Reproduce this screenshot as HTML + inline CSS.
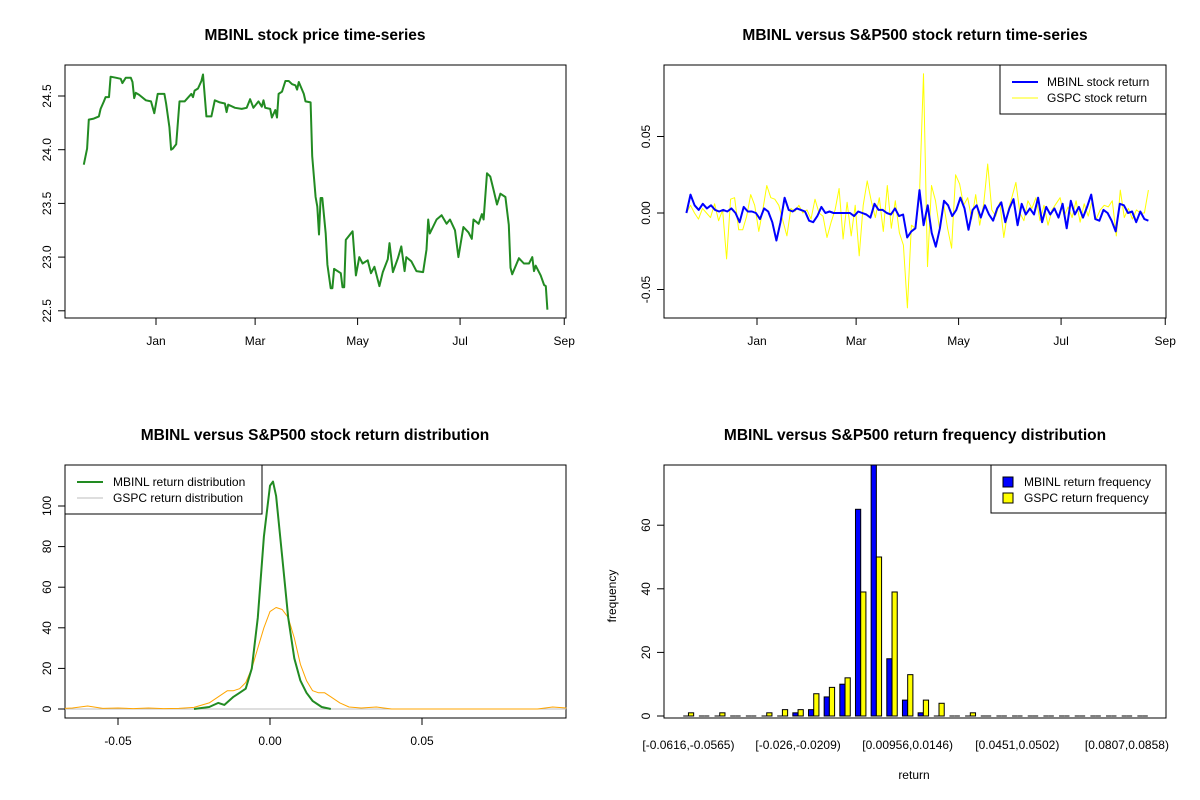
<!DOCTYPE html>
<html><head><meta charset="utf-8">
<style>
body{margin:0;background:#fff;}
svg{display:block;font-family:"Liberation Sans",Arial,sans-serif;}
.t{font-weight:bold;font-size:15.5px;text-anchor:middle;}
.tk{font-size:12px;}
</style></head>
<body>
<svg id="c" width="1200" height="800" viewBox="0 0 1200 800">
<rect width="1200" height="800" fill="#fff"/>
</svg>
<script>
// ---- data ----
const priceDays=[-43,-41,-40,-37,-34,-33,-31,-30,-28,-27,-24,-21,-20,-18,-15,-14,-13,-12,-10,-6,-3,-1,1,5,6,8,9,10,12,14,17,21,22,23,25,27,28,30,33,35,38,41,42,43,47,51,54,56,58,61,63,64,65,68,69,71,72,73,75,77,79,81,83,84,85,88,89,92,93,94,95,96,97,98,99,101,102,104,105,106,110,111,112,113,117,119,121,123,126,128,130,133,135,138,139,141,144,146,148,149,152,155,159,161,162,163,167,170,173,175,178,180,183,186,188,189,192,194,195,197,199,201,203,205,208,210,211,212,216,219,222,224,225,226,229,231,232,233];
const prices=[23.86,24.01,24.28,24.29,24.31,24.38,24.45,24.49,24.49,24.68,24.67,24.66,24.62,24.67,24.67,24.63,24.48,24.53,24.51,24.46,24.45,24.34,24.52,24.52,24.43,24.21,24.00,24.01,24.05,24.45,24.45,24.52,24.49,24.55,24.57,24.64,24.70,24.31,24.31,24.46,24.44,24.43,24.35,24.42,24.39,24.38,24.39,24.47,24.39,24.45,24.40,24.46,24.39,24.38,24.30,24.37,24.30,24.52,24.54,24.64,24.64,24.61,24.60,24.56,24.63,24.52,24.45,24.44,23.94,23.75,23.56,23.47,23.21,23.55,23.55,23.22,22.93,22.71,22.71,22.89,22.85,22.72,22.72,23.16,23.24,22.83,23.00,22.94,22.97,22.85,22.91,22.73,22.86,22.98,23.13,22.86,22.99,23.10,22.87,23.00,22.96,22.87,22.86,23.07,23.35,23.22,23.35,23.39,23.31,23.35,23.25,23.00,23.28,23.23,23.17,23.35,23.31,23.40,23.35,23.78,23.75,23.62,23.49,23.59,23.56,23.30,22.90,22.84,22.99,22.94,22.94,23.00,22.87,22.92,22.83,22.74,22.73,22.51];
// returns in percent (0.01 units)
const mbinlRet=[0,1.2,0.5,0.2,0.6,0.3,0.5,0.2,0.1,0.2,0.1,0.3,0,-0.6,0.4,0.1,0.1,0,-0.4,0.3,0.1,-0.6,-1.8,-0.6,1.0,0.2,0.1,0.3,0.2,0.1,-0.5,-0.6,-0.2,0.4,0,0.1,0,0,0,0,0,-0.2,0.1,0,-0.1,-0.3,0.6,0.2,0.2,0,-0.1,0.3,-0.2,-0.1,-1.6,-1.2,-1.0,1.5,-0.8,0.5,-1.3,-2.2,-1.0,0.8,0.5,-0.2,0.2,1.0,0.3,-1.1,0.2,0.5,-0.3,0.5,-0.1,-0.5,0.3,0.7,-0.6,0.3,0.9,-0.8,0.6,-0.1,0.3,-0.1,1.0,-0.6,0.4,-0.1,0.3,-0.3,0.6,-1.0,0.8,-0.1,0.4,-0.3,0.4,1.2,-0.4,-0.5,0.2,0,-0.5,-1.2,0.6,0.5,0,0.1,-0.6,0.1,-0.4,-0.5];
const gspcRet=[0,0.5,0,-0.4,0.3,0,-0.3,0.6,-0.5,0.2,-3.0,0.9,1.0,-1.1,-1.1,-0.2,1.2,0.5,-1.2,0.2,1.8,1.0,0.9,0.5,-0.5,-1.5,0.3,0.1,0.5,0,0.2,-0.4,0.9,0,-0.2,-1.6,-0.6,0.2,1.6,-1.7,0.7,-1.5,0.5,-2.8,0.5,2.1,0.8,-0.3,1.0,-1.2,1.8,-1.0,0.8,-1.3,-2.1,-6.2,-0.8,-1.0,1.0,9.1,-3.5,1.8,0.8,-1.0,0.6,-1.0,-2.3,2.5,1.9,0.5,1.0,-0.4,1.2,-0.8,0.6,3.2,0.2,-0.2,0.7,-1.6,0.1,1.0,2.0,0,-0.5,0.8,0.3,1.0,-0.5,0.5,-0.8,0.2,0.6,1.0,-0.2,0.4,-0.3,0.8,-0.6,0.6,-0.2,0.8,-0.4,0.2,0.5,0.4,0.8,-1.5,1.5,-0.3,0.3,-0.4,0.2,0,0,1.5];
const densGX=[-0.025,-0.02,-0.017,-0.015,-0.012,-0.01,-0.008,-0.006,-0.004,-0.002,0,0.001,0.002,0.004,0.006,0.008,0.01,0.012,0.014,0.017,0.02];
const densGY=[0,1,3,2,6,8,10,20,45,85,110,112,105,75,45,25,14,8,4,1,0];
const densOX=[-0.0675,-0.065,-0.06,-0.055,-0.05,-0.045,-0.04,-0.035,-0.03,-0.025,-0.02,-0.017,-0.014,-0.012,-0.01,-0.008,-0.006,-0.004,-0.002,0,0.002,0.004,0.006,0.008,0.01,0.012,0.014,0.016,0.018,0.02,0.023,0.026,0.03,0.035,0.04,0.088,0.093,0.0975];
const densOY=[0.3,0.5,1.5,0.3,0.5,0.2,0.5,0.2,0.3,0.8,3,6,9,9,10,13,20,30,40,48,50,49,45,35,22,14,9,8,8,6,3,1,0.5,1,0,0,1,0.5];
const binLabels=["[-0.0616,-0.0565)","[-0.026,-0.0209)","[0.00956,0.0146)","[0.0451,0.0502)","[0.0807,0.0858)"];
const histBlue=[0,0,0,0,0,0,0,1,2,6,10,65,85,18,5,1,0,0,0,0,0,0,0,0,0,0,0,0,0,0];
const histYellow=[1,0,1,0,0,1,2,2,7,9,12,39,50,39,13,5,4,0,1,0,0,0,0,0,0,0,0,0,0,0];
const monthTicks=["Jan","Mar","May","Jul","Sep"];
const monthDays=[0,59,120,181,243];

// ---- helpers ----
const S=document.getElementById('c');const NS='http://www.w3.org/2000/svg';
function mk(tag,at,name,parent){const e=document.createElementNS(NS,tag);for(const k in at)e.setAttribute(k,at[k]);


(parent||S).appendChild(e);return e;}
function txt(x,y,s,name,cls,extra){const e=mk('text',Object.assign({x:x,y:y,class:cls||'tk'},extra||{}),name);e.textContent=s;return e;}
function box(x0,y0,x1,y1,name){mk('rect',{x:x0,y:y0,width:x1-x0,height:y1-y0,fill:'none',stroke:'#000','stroke-width':1},name);}
function yTick(xb,y,lab,name){mk('line',{x1:xb,x2:xb-7,y1:y,y2:y,stroke:'#000'},name+'-tick');
txt(xb-14,y,lab,name+'-label','tk',{transform:'rotate(-90 '+(xb-14)+' '+y+')','text-anchor':'middle'});}
function xTick(x,yb,lab,name){mk('line',{x1:x,x2:x,y1:yb,y2:yb+7,stroke:'#000'},name+'-tick');
txt(x,yb+27,lab,name+'-label','tk',{'text-anchor':'middle'});}
function poly(xs,ys,col,w,name){mk('polyline',{points:xs.map((x,i)=>x.toFixed(1)+','+ys[i].toFixed(1)).join(' '),fill:'none',stroke:col,'stroke-width':w,'stroke-linejoin':'round'},name);}

// ---- panel 1: price ----
const px1=d=>156+d*1.68, py1=p=>96+(24.5-p)*107.4;
txt(315,40,'MBINL stock price time-series','price-chart-title','t');
box(65,65,566,318,'price-plot-frame');
[22.5,23.0,23.5,24.0,24.5].forEach(v=>yTick(65,py1(v),v.toFixed(1),'price-y'));
monthTicks.forEach((m,i)=>xTick(px1(monthDays[i]),318,m,'price-x-'+m.toLowerCase()));
poly(priceDays.map(px1),prices.map(py1),'#228B22',2,'price-line');

// ---- panel 2: returns ----
const px2=d=>757+d*1.68, py2=v=>213-v*15.3;
txt(915,40,'MBINL versus S&P500 stock return time-series','return-chart-title','t');
box(664,65,1166,318,'return-plot-frame');
[-5,0,5].forEach(v=>yTick(664,py2(v),(v/100).toFixed(2),'return-y'));
monthTicks.forEach((m,i)=>xTick(px2(monthDays[i]),318,m,'return-x-'+m.toLowerCase()));
const retX=a=>a.map((_,i)=>px2(-42+i*275/(a.length-1)));
poly(retX(gspcRet),gspcRet.map(py2),'#ffff00',1,'gspc-return-line');
poly(retX(mbinlRet),mbinlRet.map(py2),'#0000ff',2,'mbinl-return-line');
mk('rect',{x:1000,y:65,width:166,height:49,fill:'#fff',stroke:'#000'},'return-legend');
mk('line',{x1:1012,x2:1038,y1:82,y2:82,stroke:'#0000ff','stroke-width':2},'legend-mbinl-return-swatch');
txt(1047,86,'MBINL stock return','legend-mbinl-return-label');
mk('line',{x1:1012,x2:1038,y1:98,y2:98,stroke:'#ffff00','stroke-width':1},'legend-gspc-return-swatch');
txt(1047,102,'GSPC stock return','legend-gspc-return-label');

// ---- panel 3: density ----
const px3=r=>270+r*3040, py3=v=>709-v*2.03;
txt(315,440,'MBINL versus S&P500 stock return distribution','density-chart-title','t');
box(65,465,566,718,'density-plot-frame');
[0,20,40,60,80,100].forEach(v=>yTick(65,py3(v),String(v),'density-y'));
[-0.05,0,0.05].forEach(v=>xTick(px3(v),718,v.toFixed(2),'density-x'));
mk('line',{x1:65,x2:566,y1:py3(0),y2:py3(0),stroke:'#bebebe'},'density-baseline');
poly(densOX.map(px3),densOY.map(py3),'#FFA500',1,'gspc-density-line');
poly(densGX.map(px3),densGY.map(py3),'#228B22',2,'mbinl-density-line');
mk('rect',{x:65,y:465,width:197,height:49,fill:'#fff',stroke:'#000'},'density-legend');
mk('line',{x1:77,x2:103,y1:482,y2:482,stroke:'#228B22','stroke-width':2},'legend-mbinl-density-swatch');
txt(113,486,'MBINL return distribution','legend-mbinl-density-label');
mk('line',{x1:77,x2:103,y1:498,y2:498,stroke:'#bebebe'},'legend-gspc-density-swatch');
txt(113,502,'GSPC return distribution','legend-gspc-density-label');

// ---- panel 4: histogram ----
const unit=5.22, gx=i=>678+unit+i*3*unit, py4=v=>716-v*3.18;
txt(915,440,'MBINL versus S&P500 return frequency distribution','hist-chart-title','t');
const cp=mk('clipPath',{id:'hc'},'hist-clip');mk('rect',{x:664,y:465,width:502,height:253},'hist-clip-rect',cp);
function bar(x,v,col,name){
  if(v===0){mk('line',{x1:x,x2:x+unit,y1:py4(0),y2:py4(0),stroke:'#000'},name);}
  else mk('rect',{x:x,y:py4(v),width:unit,height:v*3.18,fill:col,stroke:'#000','stroke-width':1,'clip-path':'url(#hc)'},name);
}
histBlue.forEach((v,i)=>bar(gx(i),v,'#0000ff','bar-mbinl-'+(i+1)));
histYellow.forEach((v,i)=>bar(gx(i)+unit,v,'#ffff00','bar-gspc-'+(i+1)));
box(664,465,1166,718,'hist-plot-frame');
[0,20,40,60].forEach(v=>yTick(664,py4(v),String(v),'hist-y'));
binLabels.forEach((l,k)=>txt(gx(k*7)+unit,749,l,'hist-x-label','tk',{'text-anchor':'middle'}));
txt(611,591,'frequency','hist-y-title','tk',{transform:'rotate(-90 616 591)','text-anchor':'middle'});
txt(914,779,'return','hist-x-title','tk',{'text-anchor':'middle'});
mk('rect',{x:991,y:465,width:175,height:48,fill:'#fff',stroke:'#000'},'hist-legend');
mk('rect',{x:1003,y:477,width:10,height:10,fill:'#0000ff',stroke:'#000'},'legend-mbinl-freq-swatch');
txt(1024,486,'MBINL return frequency','legend-mbinl-freq-label');
mk('rect',{x:1003,y:493,width:10,height:10,fill:'#ffff00',stroke:'#000'},'legend-gspc-freq-swatch');
txt(1024,502,'GSPC return frequency','legend-gspc-freq-label');
</script>
</body></html>
